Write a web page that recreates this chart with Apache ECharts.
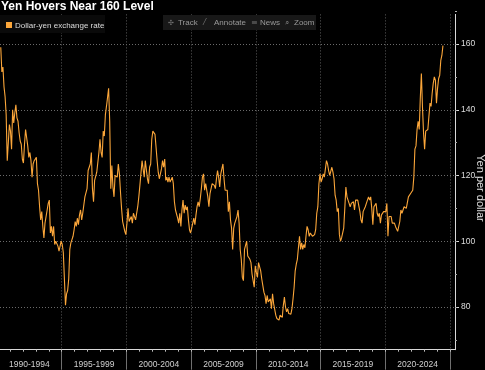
<!DOCTYPE html>
<html><head><meta charset="utf-8">
<script src="https://cdn.jsdelivr.net/npm/echarts@6/dist/echarts.min.js"></script>
<style>html,body{margin:0;padding:0;background:#000}#c{width:485px;height:370px}</style>
</head><body><div id="c"></div>
<script>
// Monthly dollar-yen values, starting April 1990
const startYear = 1990;
const startMonthIndex = 3; // April (0-based)
const rates1990s = [
  159.0, 151.5, 153.0, 147.0, 144.0, 138.5, 124.5, 130.0, 135.5,
  133.5, 128.0, 140.0, 136.0, 139.0, 141.5, 137.5, 136.5, 133.0, 130.5, 129.5, 125.0,
  123.8, 129.5, 134.0, 133.5, 129.0, 125.5, 127.0, 124.5, 119.5, 123.5, 124.5, 124.5,
  125.5, 117.5, 115.5, 110.5, 106.5, 109.0, 104.5, 101.0, 105.5, 105.5, 109.5, 111.5,
  112.5, 102.5, 104.5, 101.5, 104.5, 99.0, 100.0, 99.5, 98.5, 97.0, 98.5, 100.0,
  99.0, 96.5, 88.5, 80.5, 84.0, 85.0, 88.5, 97.5, 99.5, 100.5, 101.5, 103.5,
  106.0, 104.5, 107.0, 105.0, 108.0, 109.5, 106.5, 108.5, 111.0, 113.5, 113.5, 116.0,
  121.5, 121.5, 123.5, 127.0, 116.0, 112.0, 118.5, 118.0, 121.0, 120.5, 127.0, 131.0,
  127.0, 125.5, 133.5, 132.0, 138.5, 141.0, 140.5, 146.5, 136.5, 116.0, 123.0, 116.5,
  113.5, 120.0, 119.5, 119.5, 123.5, 120.5, 115.0, 110.0, 106.0, 105.5, 103.0, 102.0
];
const rates2000s = [
  105.5, 110.0, 106.0, 106.5, 107.5, 105.5, 108.5, 107.5, 106.5, 108.5, 110.5, 113.5,
  117.0, 117.5, 124.5, 124.0, 119.5, 124.5, 124.5, 119.0, 117.5, 122.5, 123.5, 131.0,
  133.5, 134.0, 132.5, 128.5, 124.5, 121.0, 119.0, 118.5, 122.0, 124.5, 122.5, 125.0,
  118.5, 119.5, 118.0, 119.5, 118.0, 118.5, 119.5, 117.5, 112.0, 109.5, 109.5, 107.0,
  105.5, 108.5, 104.5, 109.5, 112.5, 108.5, 111.0, 109.5, 110.5, 106.5, 103.5, 102.5,
  104.0, 104.5, 107.0, 105.0, 108.0, 110.5, 112.0, 110.5, 113.0, 116.0, 119.5, 120.5,
  115.5, 117.5, 117.0, 113.5, 110.5, 114.5, 114.5, 117.5, 118.0, 117.0, 116.0, 119.0,
  121.5, 119.5, 116.5, 120.5, 122.0, 123.5, 119.0, 115.5, 115.0, 115.5, 109.0, 112.0,
  106.5, 104.0, 97.5, 104.0, 105.5, 106.0, 107.5, 109.5, 105.5, 97.5, 94.5, 89.0,
  88.0, 97.5, 98.0, 100.0, 95.5, 96.0, 94.5, 93.5, 90.0, 90.5, 86.0, 92.5
];
const rates2010s = [
  90.5, 89.0, 93.5, 94.0, 91.0, 88.5, 86.5, 84.5, 83.5, 81.0, 83.5, 81.5,
  82.0, 82.5, 79.5, 84.0, 81.0, 80.5, 77.5, 76.5, 76.8, 76.0, 77.5, 77.0,
  76.8, 80.5, 83.0, 80.0, 78.5, 79.5, 78.0, 78.5, 77.8, 79.5, 82.5, 86.0,
  91.0, 93.0, 94.5, 98.0, 101.5, 97.5, 99.5, 97.5, 99.0, 98.0, 101.5, 104.5,
  103.5, 101.5, 102.5, 102.5, 101.5, 101.5, 102.0, 103.5, 108.5, 110.5, 117.5, 120.5,
  118.0, 119.0, 120.5, 119.5, 122.0, 124.5, 123.5, 121.5, 120.0, 120.0, 122.5, 121.0,
  119.0, 114.0, 112.5, 109.0, 110.0, 102.0, 100.0, 101.0, 101.5, 104.0, 110.0, 116.5,
  113.5, 112.5, 111.5, 110.5, 111.5, 112.0, 112.0, 109.5, 112.5, 113.0, 112.5, 112.5,
  109.0, 106.5, 105.5, 109.0, 109.5, 110.5, 111.5, 111.0, 113.5, 112.5, 113.5, 110.0,
  105.0, 110.5, 110.5, 111.5, 108.5, 107.5, 108.5, 105.5, 108.0, 108.5, 109.0, 109.0
];
const rates2020s = [
  109.0, 111.5, 101.5, 107.5, 107.5, 107.5, 105.5, 106.0, 105.5, 104.5, 104.0, 103.0,
  103.5, 106.0, 109.5, 108.5, 109.5, 110.5, 110.0, 110.0, 110.5, 113.5, 114.0, 114.5,
  115.0, 115.5, 119.5, 128.0, 129.0, 134.0, 136.5, 134.0, 143.5, 151.0, 141.0, 133.0,
  128.0, 133.5, 133.0, 134.0, 138.0, 142.0, 141.0, 145.0, 148.0, 150.0, 149.0, 142.0,
  146.5, 149.5, 150.5, 155.0, 156.5, 159.5
];
const bandLabels = ['1990-1994','1995-1999','2000-2004','2005-2009','2010-2014','2015-2019','2020-2024'];
const yLabelValues = [80, 100, 120, 140, 160];

const FONT = "'Liberation Sans', Arial, sans-serif";
const LINE = '#fba63a';
const allRates = rates1990s.concat(rates2000s, rates2010s, rates2020s);
const seriesData = allRates.map((v, i) => [startYear + (startMonthIndex + i + 0.5) / 12, v]);

const chart = echarts.init(document.getElementById('c'), null, {renderer: 'canvas'});
const hidden = {show: false};
const g = (o) => Object.assign({outerBoundsMode: 'none', containLabel: false}, o);
const helperAxis = (gi) => ({gridIndex: gi, type: 'value', show: false, min: 1, max: 2,
  axisLine: {show: false, onZero: false}});
chart.setOption({
  backgroundColor: '#000',
  animation: false,
  grid: [
    g({left: 0, top: 14.4, width: 455, height: 335.3}),
    g({left: 0, top: -21.75, width: 455, height: 394.5}),
    g({left: -3, top: 14.4, width: 453, height: 335.3}),
    g({left: -3, top: 14.4, width: 453, height: 335.3}),
    g({left: 0, top: -21.75, width: 455, height: 394.5})
  ],
  xAxis: [
    {gridIndex: 0, type: 'value', min: 1990.232, max: 2025.39,
     axisLine: {show: true, onZero: false, lineStyle: {color: '#d8d8d8', width: 1}},
     axisTick: hidden, axisLabel: hidden, splitLine: hidden},
    helperAxis(1),
    {gridIndex: 2, type: 'category', data: bandLabels, boundaryGap: true,
     axisLine: {show: false, onZero: false},
     axisTick: {show: true, length: 20, lineStyle: {color: '#707070'}},
     axisLabel: {color: '#cfcfcf', fontSize: 8.5, margin: 10, fontFamily: FONT},
     splitLine: {show: true, lineStyle: {color: '#5c5c5c', type: [1, 2]}}},
    {gridIndex: 3, type: 'value', min: 1990, max: 2025, interval: 1,
     axisLine: {show: false, onZero: false},
     axisTick: {show: true, length: 2, lineStyle: {color: '#bbbbbb'}},
     axisLabel: hidden, splitLine: hidden},
    helperAxis(4)
  ],
  yAxis: [
    {gridIndex: 0, type: 'value', position: 'right', min: 67, max: 169,
     axisLine: {show: true, onZero: false, lineStyle: {color: '#d8d8d8', width: 1}},
     axisTick: hidden, axisLabel: hidden, splitLine: hidden},
    {gridIndex: 1, type: 'value', position: 'right', min: 60, max: 180, interval: 20,
     axisLine: {show: false, onZero: false},
     axisTick: {show: true, length: 4, lineStyle: {color: '#dddddd'}},
     axisLabel: {color: '#dddddd', fontSize: 8.5, margin: 6, fontFamily: FONT,
       formatter: v => yLabelValues.indexOf(v) >= 0 ? String(v) : ''},
     splitLine: {show: true, lineStyle: {color: '#6a6a6a', type: [1, 2]}}},
    helperAxis(2),
    helperAxis(3),
    {gridIndex: 4, type: 'value', position: 'right', min: 60, max: 180, interval: 10,
     axisLine: {show: false, onZero: false},
     axisTick: {show: true, length: 2, lineStyle: {color: '#aaaaaa'}},
     axisLabel: hidden, splitLine: hidden}
  ],
  series: [{
    type: 'line', name: 'Dollar-yen exchange rate', xAxisIndex: 0, yAxisIndex: 0,
    data: seriesData, symbol: 'none', showSymbol: false, z: 5,
    lineStyle: {color: LINE, width: 1.1}
  }],
  graphic: [
    {type: 'text', x: 1, y: 1, z: 100, style: {text: 'Yen Hovers Near 160 Level', fill: '#ffffff', fontSize: 12, fontWeight: 'bold', fontFamily: FONT}},
    {type: 'text', x: 480, y: 188, rotation: -Math.PI / 2, z: 100, style: {text: 'Yen per dollar', fill: '#dddddd', fontSize: 11, fontFamily: FONT, align: 'center', verticalAlign: 'middle'}},
    {type: 'rect', z: 99, shape: {x: 0, y: 15, width: 105, height: 18}, style: {fill: '#0a0a0a'}},
    {type: 'rect', z: 100, shape: {x: 6, y: 22, width: 6, height: 6}, style: {fill: LINE}},
    {type: 'text', x: 15, y: 25.5, z: 100, style: {text: 'Dollar-yen exchange rate', fill: '#dddddd', fontSize: 8, fontFamily: FONT, verticalAlign: 'middle'}},
    {type: 'rect', z: 99, shape: {x: 163, y: 15, width: 153, height: 15}, style: {fill: '#181818'}},
    {type: 'text', x: 168, y: 22.7, z: 100, style: {text: '✣', fill: '#777', fontSize: 7, fontFamily: 'DejaVu Sans', verticalAlign: 'middle'}},
    {type: 'text', x: 178, y: 22.7, z: 100, style: {text: 'Track', fill: '#9a9a9a', fontSize: 8, fontFamily: FONT, verticalAlign: 'middle'}},
    {type: 'text', x: 204, y: 22.7, z: 100, style: {text: '⁄', fill: '#777', fontSize: 8, fontFamily: 'DejaVu Sans', verticalAlign: 'middle'}},
    {type: 'text', x: 214, y: 22.7, z: 100, style: {text: 'Annotate', fill: '#9a9a9a', fontSize: 8, fontFamily: FONT, verticalAlign: 'middle'}},
    {type: 'text', x: 251, y: 22.7, z: 100, style: {text: '≡', fill: '#777', fontSize: 8, fontFamily: 'DejaVu Sans', verticalAlign: 'middle'}},
    {type: 'text', x: 260, y: 22.7, z: 100, style: {text: 'News', fill: '#9a9a9a', fontSize: 8, fontFamily: FONT, verticalAlign: 'middle'}},
    {type: 'text', x: 285, y: 22.7, z: 100, style: {text: '⌕', fill: '#777', fontSize: 8, fontFamily: 'DejaVu Sans', verticalAlign: 'middle'}},
    {type: 'text', x: 294, y: 22.7, z: 100, style: {text: 'Zoom', fill: '#9a9a9a', fontSize: 8, fontFamily: FONT, verticalAlign: 'middle'}}
  ]
});
</script></body></html>
